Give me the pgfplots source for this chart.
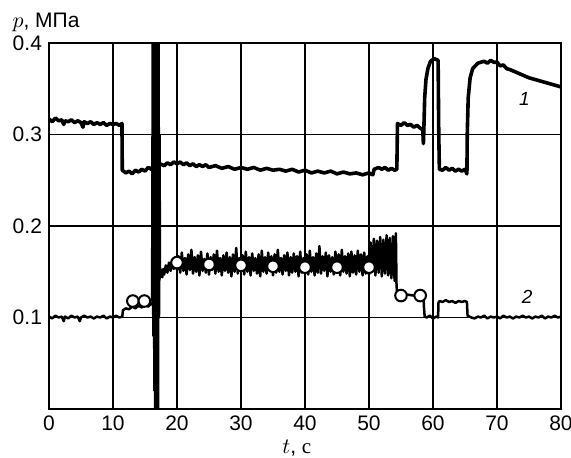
\documentclass[border=0pt]{standalone}
\usepackage{fontspec}
\setmainfont{Liberation Sans}
\newfontfamily\serifcyr{Liberation Serif}
\usepackage{pgfplots}
\pgfplotsset{compat=1.18}

\begin{document}
\begin{tikzpicture}
\path[use as bounding box] (-24.5pt,-24pt) rectangle (261pt,204.5pt);
\begin{axis}[
  at={(0,0)}, anchor=south west,
  width=256pt, height=183pt, scale only axis,
  xmin=0, xmax=80, ymin=0, ymax=0.4,
  xtick={0,10,20,30,40,50,60,70,80},
  xticklabels={0,10,20,30,40,50,60,70,80},
  ytick={0.1,0.2,0.3,0.4},
  yticklabels={0.1,0.2,0.3,0.4},
  grid=major, major grid style={black, line width=0.6pt},
  axis line style={line width=1pt},
  major tick length=0pt,
  tick label style={font=\fontsize{10.5}{12}\selectfont},
  /pgf/number format/assume math mode=true,
  clip mode=individual,
]
% curve 1
\addplot[black, line width=1.8pt, line join=round] coordinates {
(0,0.317) (0.5,0.314) (1,0.318) (1.5,0.315) (2,0.316) (2.3,0.311) (2.5,0.315) (3,0.314) (3.5,0.316) (4,0.313) (4.5,0.315) (5,0.313) (5.3,0.308) (5.5,0.314) (6,0.312) (6.5,0.314) (7,0.311) (7.5,0.313) (8,0.311) (8.5,0.313) (9,0.310) (9.5,0.312) (10,0.311) (10.5,0.312) (11,0.310) (11.4,0.312)
(11.45,0.261) (12,0.258) (12.5,0.260) (13,0.257) (13.5,0.261) (14,0.259) (14.5,0.262) (15,0.260) (15.5,0.264) (16,0.262) (16.3,0.266)
(17.3,0.268) (18,0.266) (18.5,0.269) (19,0.267) (19.5,0.270) (20,0.268) (20.5,0.270) (21,0.267) (21.5,0.269) (22,0.266) (22.5,0.268) (23,0.265) (23.5,0.267) (24,0.265) (24.5,0.267) (25,0.264) (26,0.266) (27,0.263) (28,0.265) (29,0.262) (30,0.264) (31,0.262) (32,0.264) (33,0.261) (34,0.263) (35,0.261) (36,0.262) (37,0.260) (38,0.262) (39,0.259) (40,0.261) (41,0.258) (42,0.260) (43,0.258) (44,0.260) (45,0.257) (46,0.259) (47,0.257) (48,0.258) (49,0.256) (50,0.258) (50.6,0.256)
(50.8,0.262) (51.5,0.264) (52,0.262) (52.5,0.264) (53,0.261) (53.5,0.263) (54,0.261) (54.35,0.262)
(54.45,0.312) (55,0.310) (55.5,0.313) (56,0.310) (56.5,0.311) (57,0.308) (57.5,0.310) (58,0.307) (58.4,0.305) (58.5,0.290) (58.55,0.300) (58.7,0.340) (58.9,0.360) (59.2,0.372) (59.6,0.380) (60.2,0.383) (60.8,0.381) (60.9,0.300)
(61.0,0.262) (61.5,0.261) (62,0.264) (62.5,0.261) (63,0.263) (63.5,0.260) (64,0.262) (64.5,0.260) (65,0.262) (65.3,0.257)
(65.35,0.300) (65.5,0.340) (65.8,0.362) (66.2,0.372) (67,0.378) (68,0.380) (68.5,0.378) (69,0.381) (69.5,0.379) (70,0.379) (70.5,0.375) (71,0.376) (71.5,0.372) (72,0.371) (73,0.368) (74,0.365) (75,0.362) (76,0.360) (77,0.358) (78,0.356) (79,0.354) (80,0.352)
};
% curve 2
\addplot[black, line width=1.25pt, line join=round] coordinates {
(0,0.101) (0.5,0.099) (1,0.102) (1.5,0.100) (2,0.101) (2.3,0.096) (2.5,0.101) (3,0.099) (3.5,0.102) (4,0.100) (4.5,0.101) (4.8,0.096) (5,0.100) (5.5,0.102) (6,0.100) (6.5,0.101) (7,0.099) (7.5,0.101) (8,0.100) (8.5,0.102) (9,0.099) (9.5,0.101) (10,0.100) (10.5,0.102) (11,0.100) (11.45,0.101)
(11.55,0.108) (12,0.110) (12.5,0.109) (13,0.112) (13.5,0.110) (14,0.113) (14.5,0.111) (15,0.114) (15.5,0.112) (16,0.115) (16.3,0.118)
(17.40,0.146) (17.55,0.152) (17.70,0.144) (17.85,0.153) (18.00,0.147) (18.25,0.157) (18.50,0.149) (18.75,0.160) (19.00,0.151) (19.25,0.163) (19.50,0.153) (19.75,0.166)
(20.00,0.152) (20.25,0.167) (20.50,0.149) (20.75,0.171) (21.00,0.151) (21.25,0.165) (21.50,0.147) (21.75,0.169) (22.00,0.152) (22.25,0.174) (22.50,0.148) (22.75,0.166) (23.00,0.150) (23.25,0.168) (23.50,0.146) (23.75,0.172) (24.00,0.151) (24.25,0.164) (24.50,0.149) (24.75,0.170) (25.00,0.147) (25.25,0.166) (25.50,0.152) (25.75,0.169) (26.00,0.148) (26.25,0.173) (26.50,0.150) (26.75,0.165) (27.00,0.146) (27.25,0.168) (27.50,0.151) (27.75,0.171) (28.00,0.149) (28.25,0.166) (28.50,0.145) (28.75,0.169) (29.00,0.150) (29.25,0.176) (29.50,0.148) (29.75,0.165)
(30.00,0.151) (30.25,0.168) (30.50,0.147) (30.75,0.172) (31.00,0.150) (31.25,0.166) (31.50,0.146) (31.75,0.170) (32.00,0.151) (32.25,0.165) (32.50,0.148) (32.75,0.169) (33.00,0.145) (33.25,0.173) (33.50,0.150) (33.75,0.166) (34.00,0.148) (34.25,0.171) (34.50,0.151) (34.75,0.167) (35.00,0.146) (35.25,0.169) (35.50,0.149) (35.75,0.174) (36.00,0.150) (36.25,0.165) (36.50,0.147) (36.75,0.168) (37.00,0.151) (37.25,0.171) (37.50,0.146) (37.75,0.166) (38.00,0.149) (38.25,0.170) (38.50,0.150) (38.75,0.167) (39.00,0.145) (39.25,0.172) (39.50,0.149) (39.75,0.165)
(40.00,0.151) (40.25,0.169) (40.50,0.147) (40.75,0.173) (41.00,0.150) (41.25,0.166) (41.50,0.146) (41.75,0.170) (42.00,0.149) (42.25,0.178) (42.50,0.148) (42.75,0.167) (43.00,0.151) (43.25,0.171) (43.50,0.145) (43.75,0.168) (44.00,0.150) (44.25,0.166) (44.50,0.147) (44.75,0.172) (45.00,0.149) (45.25,0.169) (45.50,0.146) (45.75,0.174) (46.00,0.150) (46.25,0.167) (46.50,0.148) (46.75,0.170) (47.00,0.145) (47.25,0.172) (47.50,0.149) (47.75,0.168) (48.00,0.147) (48.25,0.173) (48.50,0.150) (48.75,0.169) (49.00,0.146) (49.25,0.171) (49.50,0.148) (49.75,0.167)
(50.00,0.147) (50.25,0.182) (50.50,0.150) (50.75,0.186) (51.00,0.146) (51.25,0.184) (51.50,0.149) (51.75,0.188) (52.00,0.145) (52.25,0.185) (52.50,0.148) (52.75,0.190) (53.00,0.146) (53.25,0.187) (53.50,0.143) (53.75,0.189) (54.00,0.140) (54.20,0.192) (54.30,0.135)
(54.40,0.126) (55,0.124) (56,0.125) (57,0.124) (58,0.124) (58.5,0.123) (58.6,0.110) (58.7,0.101) (59,0.100) (59.5,0.102) (60,0.099) (60.5,0.101) (60.8,0.100)
(60.85,0.116) (61,0.118) (61.5,0.117) (62,0.119) (62.5,0.117) (63,0.118) (63.5,0.116) (64,0.118) (64.5,0.117) (65,0.118) (65.3,0.117)
(65.4,0.102) (66,0.100) (66.5,0.099) (67,0.101) (67.5,0.100) (68,0.102) (68.5,0.099) (69,0.101) (69.5,0.100) (70,0.101) (70.5,0.099) (71,0.102) (71.5,0.100) (72,0.101) (72.5,0.099) (73,0.101) (73.5,0.100) (74,0.102) (74.5,0.100) (75,0.101) (75.5,0.099) (76,0.101) (76.5,0.100) (77,0.102) (77.5,0.099) (78,0.101) (78.5,0.100) (79,0.102) (79.5,0.100) (80,0.101)
};
% transient spike
\addplot[black, line width=1.8pt, line join=round] coordinates {
(16.20,0.118) (16.30,0.43) (16.38,0.08) (16.46,0.43) (16.54,0.02) (16.62,0.43) (16.68,0.0) (16.76,0.43) (16.82,0.0) (16.90,0.43) (16.96,0.0) (17.04,0.43) (17.10,0.10) (17.18,0.30) (17.26,0.15) (17.40,0.146)
};
% circle markers
\addplot[only marks, mark=*, mark size=2.9pt, mark options={fill=white, draw=black, line width=1pt}] coordinates {
(13.1,0.118) (14.9,0.118) (20,0.160) (25,0.158) (30,0.157) (35,0.156) (40,0.155) (45,0.155) (50,0.155) (55,0.124) (58,0.124)
};
\node[font=\fontsize{9.5}{10}\selectfont\itshape] at (axis cs:74.3,0.339) {1};
\node[font=\fontsize{9.5}{10}\selectfont\itshape] at (axis cs:74.7,0.123) {2};
\node[anchor=west, font=\fontsize{10.5}{11}\selectfont, inner sep=0pt] at (rel axis cs:-0.072,1.057) {$p$, МПа};
\node[font=\fontsize{10.5}{11}\selectfont, inner sep=0pt] at (rel axis cs:0.484,-0.108) {$t$, {\serifcyr с}};
\end{axis}
\end{tikzpicture}
\end{document}
